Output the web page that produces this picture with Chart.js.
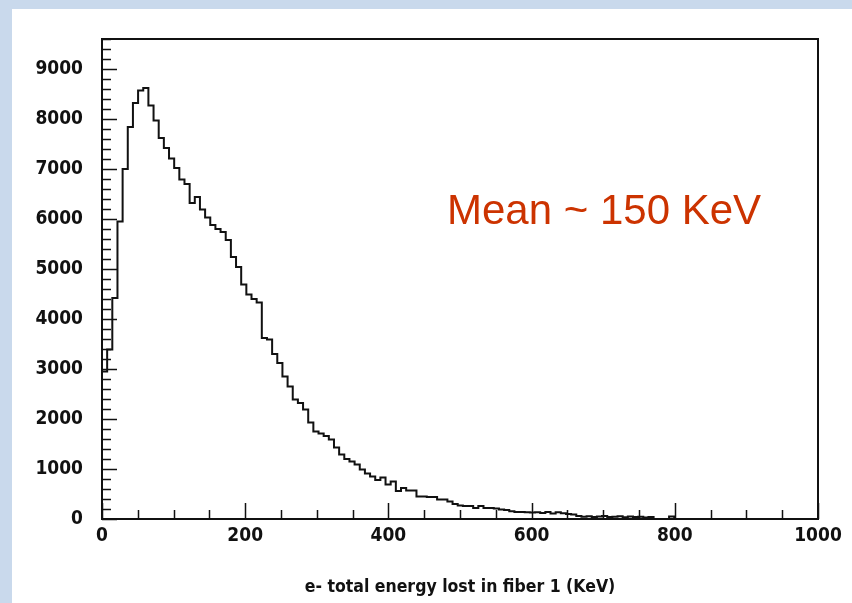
<!DOCTYPE html>
<html>
<head>
<meta charset="utf-8">
<script src="https://cdn.jsdelivr.net/npm/chart.js@4.4.0/dist/chart.umd.min.js"></script>
<style>
    html, body { margin: 0; padding: 0; }
    body { width: 852px; height: 603px; background: #c9d9ec; position: relative; overflow: hidden; }
    #sheet { position: absolute; left: 12px; top: 9px; right: 0; bottom: 0; background: #fff; }
    #chart { position: absolute; left: 0; top: 0; }
    #mean { position: absolute; left: 447px; top: 189px; font: 42px 'Liberation Sans', Arial, sans-serif; line-height: 42px; color: #cc3300; white-space: nowrap; }
</style>
</head>
<body>
<div id="sheet"></div>
<canvas id="chart" width="852" height="603"></canvas>
<div id="mean">Mean ~ 150 KeV</div>
<script>
// Histogram bin width (KeV)
const binWidth = 7.2

// Entries per bin, starting at 0 KeV
const counts = [
    2950, 3390, 4420, 5950, 7000, 7840, 8320, 8570, 8620, 8270,
    7970, 7620, 7420, 7210, 7020, 6790, 6700, 6320, 6440, 6190,
    6030, 5880, 5800, 5740, 5580, 5240, 5040, 4690, 4490, 4400,
    4330, 3620, 3590, 3300, 3120, 2850, 2650, 2390, 2320, 2190,
    1930, 1750, 1710, 1660, 1590, 1430, 1290, 1200, 1150, 1090,
    990, 910, 850, 780, 830, 690, 750, 560, 620, 570,
    570, 450, 450, 440, 440, 390, 390, 350, 300, 270,
    260, 260, 220, 260, 220, 220, 210, 190, 180, 155,
    140, 140, 135, 130, 135, 120, 140, 110, 135, 115,
    100, 90, 60, 45, 55, 40, 50, 60, 40, 45,
    55, 35, 50, 40, 45, 30, 40, 0, 0, 0,
    50, 0
]

// Axis labels
const xTickValues = [0, 200, 400, 600, 800, 1000]
const yTickValues = [0, 1000, 2000, 3000, 4000, 5000, 6000, 7000, 8000, 9000]
const xTitle = 'e- total energy lost in fiber 1 (KeV)'

// Tick marks (major / minor spacing)
const xMajor = 200, xMinor = 50
const yMajor = 1000, yMinor = 200

const labelFont = "'Liberation Sans Narrow', 'DejaVu Sans Condensed', sans-serif"

// step outline: one point per bin left edge
let histPoints = [{x: 0, y: 0}]
counts.forEach(function(c, i){
    histPoints.push({x: i * binWidth, y: c})
})
histPoints.push({x: counts.length * binWidth, y: 0})

// Frame and inward ticks like the PAW plot
const frameTicks = {
    id: 'frameTicks',
    afterDraw(chart) {
        const ctx = chart.ctx
        const a = chart.chartArea
        const xs = chart.scales.x
        const ys = chart.scales.y
        ctx.save()
        ctx.strokeStyle = '#111'
        ctx.lineWidth = 2
        ctx.strokeRect(a.left, a.top, a.right - a.left, a.bottom - a.top)
        ctx.lineWidth = 1.5
        ctx.beginPath()
        for (let v = xs.min; v <= xs.max; v += xMinor) {
            let px = Math.round(xs.getPixelForValue(v)) + 0.5
            let len = (v % xMajor == 0) ? 16 : 9
            ctx.moveTo(px, a.bottom)
            ctx.lineTo(px, a.bottom - len)
        }
        for (let v = ys.min; v <= ys.max; v += yMinor) {
            let py = Math.round(ys.getPixelForValue(v)) + 0.5
            let len = (v % yMajor == 0) ? 15 : 9
            ctx.moveTo(a.left, py)
            ctx.lineTo(a.left + len, py)
        }
        ctx.stroke()
        ctx.restore()
    }
}

function plainLabel(v){
    return String(v)
}

window.histChart = new Chart('chart', {
    type: 'line',
    data: {
        datasets: [{
            data: histPoints,
            stepped: 'before',
            borderColor: '#111',
            borderWidth: 2,
            pointRadius: 0,
            fill: false
        }]
    },
    options: {
        responsive: false,
        animation: false,
        devicePixelRatio: 1,
        layout: {
            padding: {top: 39, right: 34, bottom: 0, left: 0}
        },
        scales: {
            x: {
                type: 'linear',
                min: 0,
                max: 1000,
                afterFit: function(s){ s.height = 84 },
                afterBuildTicks: function(s){
                    s.ticks = xTickValues.map(function(v){ return {value: v} })
                },
                grid: { display: false, drawTicks: false },
                border: { display: false },
                ticks: {
                    color: '#111',
                    padding: 6,
                    maxRotation: 0,
                    callback: plainLabel,
                    font: { family: labelFont, size: 19, weight: 'bold' }
                },
                title: {
                    display: true,
                    text: xTitle,
                    color: '#111',
                    padding: { top: 0, bottom: 5 },
                    font: { family: labelFont, size: 17.5, weight: 'bold' }
                }
            },
            y: {
                min: 0,
                max: 9600,
                afterFit: function(s){ s.width = 102 },
                afterBuildTicks: function(s){
                    s.ticks = yTickValues.map(function(v){ return {value: v} })
                },
                grid: { display: false, drawTicks: false },
                border: { display: false },
                ticks: {
                    color: '#111',
                    padding: 19,
                    callback: plainLabel,
                    font: { family: labelFont, size: 19, weight: 'bold' }
                }
            }
        },
        plugins: {
            legend: { display: false },
            tooltip: { enabled: false }
        }
    },
    plugins: [frameTicks]
})
</script>
</body>
</html>
